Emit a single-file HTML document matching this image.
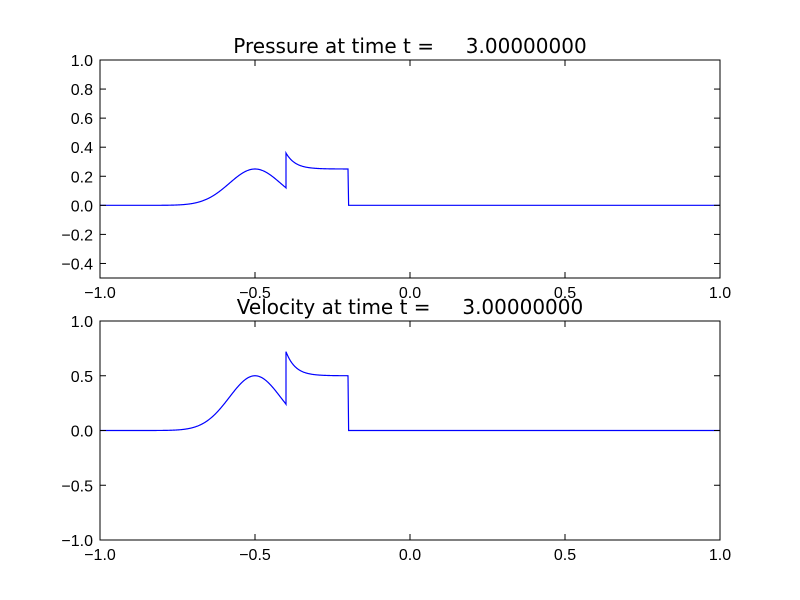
<!DOCTYPE html>
<html><head><style>
html,body{margin:0;padding:0;background:#fff;}
svg{display:block;font-family:"Liberation Sans","DejaVu Sans",sans-serif;}
.t{white-space:pre;font-family:"DejaVu Sans",sans-serif;}
</style></head><body>
<svg id="s" width="800" height="600" xmlns="http://www.w3.org/2000/svg">
<rect width="800" height="600" fill="#fff"/>
</svg>
<script>
const s=document.getElementById('s');
const NS='http://www.w3.org/2000/svg';
function el(t,a,txt){const e=document.createElementNS(NS,t);for(const k in a)e.setAttribute(k,a[k]);if(txt!==undefined)e.textContent=txt;s.appendChild(e);return e;}
const X0=100,X1=720;
function xs(x){return X0+(x+1)/2*(X1-X0);}
function f(x){
  let g=0.25*Math.exp(-Math.pow((x+0.5)/0.117,2));
  if(x>=-0.4&&x<=-0.2){g=0.25+0.11*Math.exp(-(x+0.4)/0.03);}
  else if(x>-0.2&&x<-0.198){g=0.25*(1-(x+0.2)/0.002);}
  else if(x>=-0.198&&x>-0.4){g=0;}
  return g;
}
function panel(top,bot,ymin,ymax,yt,fmt,scale,title){
  const ys=y=>bot-(y-ymin)/(ymax-ymin)*(bot-top);
  let d='';
  for(let i=0;i<=2000;i++){const x=-1+i*0.001;let y=f(x)*scale;if(Math.abs(x+0.4)<1e-9){d+='L'+xs(-0.4).toFixed(2)+','+ys(0.12*scale/1).toFixed(2);}d+=(i?'L':'M')+xs(x).toFixed(2)+','+ys(y).toFixed(2);}
  el('path',{d:d,fill:'none',stroke:'#0000ff','stroke-width':1.2});
  el('rect',{x:X0,y:top,width:X1-X0,height:bot-top,fill:'none',stroke:'#000','stroke-width':1});
  yt.forEach(v=>{const y=ys(v);
    el('line',{x1:X0,x2:X0+6,y1:y,y2:y,stroke:'#000'});
    el('line',{x1:X1,x2:X1-6,y1:y,y2:y,stroke:'#000'});
    el('text',{x:X0-7,y:y+6,'text-anchor':'end','font-size':16},fmt(v));});
  [-1,-0.5,0,0.5,1].forEach(v=>{const x=xs(v);
    el('line',{x1:x,x2:x,y1:bot,y2:bot-6,stroke:'#000'});
    el('line',{x1:x,x2:x,y1:top,y2:top+6,stroke:'#000'});
    el('text',{x:x,y:bot+20,'text-anchor':'middle','font-size':16},(v<0?'\u2212':'')+Math.abs(v).toFixed(1));});
  el('text',{x:410,y:top-7,'text-anchor':'middle','font-size':20,'class':'t'},title);
}
const fm=v=>(v<0?'\u2212':'')+Math.abs(v).toFixed(1);
panel(60,278,-0.5,1.0,[-0.4,-0.2,0,0.2,0.4,0.6,0.8,1.0],fm,1,'Pressure at time t =     3.00000000');
panel(321,540,-1,1,[-1,-0.5,0,0.5,1],fm,2,'Velocity at time t =     3.00000000');
</script>
</body></html>
